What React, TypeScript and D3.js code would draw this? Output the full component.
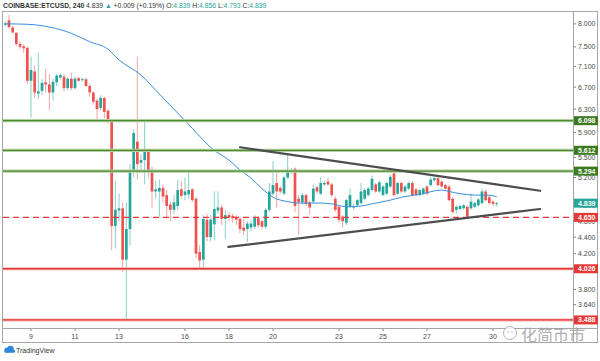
import { useEffect, useRef } from 'react'
import * as d3 from 'd3'

// 4h candles, ETC/USD
const OPEN = [
  7.98, 8.08, 7.92, 7.8, 7.56, 7.51, 7.48, 6.82, 7.0, 6.58,
  6.63, 6.79, 6.75, 6.6, 6.79, 6.88, 6.9, 6.68, 6.86, 6.68,
  6.87, 6.83, 6.85, 6.72, 6.6, 6.45, 6.32, 6.5, 6.27, 6.1,
  4.54, 4.74, 4.77, 4.13, 4.5, 5.3, 5.75, 5.42, 5.46, 5.62,
  5.28, 5.0, 5.0, 5.05, 4.95, 4.82, 4.75, 4.8, 5.03, 4.95,
  4.96, 5.03, 4.9, 4.22, 4.13, 4.62, 4.4, 4.56, 4.74, 4.78,
  4.63, 4.68, 4.67, 4.65, 4.63, 4.52, 4.5, 4.52, 4.53, 4.64,
  4.6, 4.53, 4.75, 4.97, 5.12, 5.05, 4.97, 5.2, 5.28, 5.33,
  4.9, 4.85, 4.95, 4.85, 4.86, 5.06, 4.97, 5.1, 5.14, 5.1,
  4.9, 4.79, 4.66, 4.58, 4.79, 4.78, 4.81, 4.84, 4.9, 4.95,
  5.02, 5.1, 5.0, 4.95, 4.97, 5.07, 5.26, 4.97, 5.12, 5.0,
  5.04, 5.12, 5.03, 4.95, 4.97, 5.07, 5.09, 5.16, 5.19, 5.14,
  5.09, 5.07, 4.9, 4.75, 4.76, 4.77, 4.79, 4.77, 4.79, 4.81,
  4.84, 5.0, 4.92, 4.86, 4.839,
]
const HIGH = [
  8.05, 8.2, 7.95, 7.82, 7.62, 7.56, 7.5, 7.3, 7.12, 7.38,
  6.85, 7.05, 6.95, 6.86, 6.95, 6.96, 6.95, 6.88, 6.98, 6.9,
  6.9, 6.88, 6.88, 6.76, 6.62, 6.48, 6.55, 6.52, 6.3, 6.12,
  5.15, 4.97, 4.85, 4.85, 5.4, 5.95, 7.3, 5.55, 6.1, 5.64,
  5.36, 5.15, 5.17, 5.1, 5.02, 4.86, 4.95, 5.17, 5.15, 5.2,
  5.3, 5.05, 4.92, 4.3, 4.68, 4.7, 4.68, 5.0, 5.0, 4.82,
  4.75, 4.72, 4.7, 4.68, 4.66, 4.63, 4.6, 4.6, 4.68, 4.66,
  4.62, 4.77, 5.12, 5.44, 5.3, 5.08, 5.22, 5.55, 5.34, 5.35,
  4.95, 4.98, 4.97, 4.87, 5.1, 5.08, 5.2, 5.15, 5.2, 5.12,
  4.93, 4.8, 4.68, 4.9, 5.04, 4.83, 4.9, 5.12, 5.05, 5.06,
  5.23, 5.12, 5.15, 5.09, 5.14, 5.24, 5.31, 5.14, 5.14, 5.09,
  5.14, 5.14, 5.05, 5.04, 5.06, 5.09, 5.21, 5.21, 5.21, 5.16,
  5.11, 5.1, 4.92, 4.81, 4.82, 4.83, 4.81, 4.97, 4.86, 4.91,
  5.04, 5.03, 4.94, 4.88, 4.856,
]
const LOW = [
  7.94, 7.9, 7.78, 7.52, 7.46, 7.38, 6.76, 6.15, 6.5, 6.48,
  6.55, 6.6, 6.28, 6.45, 6.72, 6.84, 6.62, 6.64, 6.64, 6.65,
  6.8, 6.8, 6.7, 6.52, 6.38, 6.11, 6.28, 6.14, 6.05, 4.24,
  4.26, 4.6, 3.99, 3.49, 4.3, 5.2, 5.17, 5.3, 5.1, 5.2,
  4.78, 4.9, 4.66, 4.85, 4.64, 4.6, 4.7, 4.75, 4.9, 4.88,
  4.9, 4.85, 4.15, 4.03, 4.03, 4.35, 4.35, 4.36, 4.7, 4.55,
  4.38, 4.6, 4.58, 4.55, 4.45, 4.42, 4.34, 4.48, 4.5, 4.52,
  4.5, 4.5, 4.72, 4.95, 4.78, 4.97, 4.95, 5.18, 5.25, 4.72,
  4.43, 4.82, 4.8, 4.69, 4.84, 4.97, 4.95, 5.08, 5.08, 4.92,
  4.72, 4.58, 4.52, 4.55, 4.77, 4.75, 4.79, 4.82, 4.88, 4.93,
  5.0, 4.98, 4.98, 4.93, 4.95, 5.05, 4.93, 4.95, 4.98, 4.98,
  5.02, 4.93, 4.93, 4.93, 4.95, 4.95, 5.07, 5.14, 5.07, 5.05,
  5.02, 4.86, 4.7, 4.7, 4.74, 4.75, 4.64, 4.75, 4.77, 4.79,
  4.82, 4.86, 4.82, 4.8, 4.793,
]
const CLOSE = [
  8.01, 7.93, 7.81, 7.56, 7.5, 7.47, 6.82, 7.03, 6.6, 6.62,
  6.78, 6.75, 6.6, 6.8, 6.92, 6.93, 6.68, 6.86, 6.68, 6.86,
  6.82, 6.85, 6.72, 6.6, 6.43, 6.3, 6.5, 6.25, 6.1, 4.54,
  4.75, 4.77, 4.13, 4.5, 5.3, 5.89, 5.4, 5.46, 5.62, 5.28,
  5.0, 5.03, 5.05, 4.93, 4.8, 4.75, 4.85, 5.02, 4.94, 5.0,
  5.02, 4.88, 4.2, 4.12, 4.63, 4.4, 4.62, 4.76, 4.78, 4.63,
  4.68, 4.65, 4.64, 4.62, 4.5, 4.48, 4.57, 4.57, 4.64, 4.55,
  4.53, 4.75, 5.0, 5.09, 5.0, 5.0, 5.2, 5.31, 5.31, 4.8,
  4.85, 4.95, 4.83, 4.78, 5.04, 5.0, 5.12, 5.12, 5.1, 4.95,
  4.75, 4.62, 4.6, 4.88, 4.95, 4.8, 4.88, 5.0, 5.02, 5.04,
  5.18, 5.0, 5.13, 5.07, 5.12, 5.21, 4.95, 5.12, 5.0, 5.07,
  5.12, 4.95, 4.95, 5.02, 5.04, 4.97, 5.17, 5.19, 5.09, 5.07,
  5.04, 4.88, 4.72, 4.79, 4.8, 4.81, 4.66, 4.86, 4.84, 4.89,
  5.0, 4.88, 4.84, 4.83, 4.839,
]

// first bar opens day 7, 20:00; one bar = 4 hours
const FIRST_DAY = 7 + 20 / 24
const BAR_DAYS = 4 / 24

// blue moving average, bar index -> value
const MA_BAR = [0, 6, 15, 18, 23, 28, 31, 37, 42, 49, 57, 61, 64, 67, 70, 73, 77, 80, 86, 89, 93, 97, 100, 105, 108, 113, 119, 121, 124, 128, 131, 134]
const MA_VAL = [8.0, 7.99, 7.87, 7.79, 7.61, 7.45, 7.23, 6.93, 6.57, 6.1, 5.61, 5.46, 5.31, 5.19, 5.04, 4.92, 4.86, 4.84, 4.84, 4.83, 4.79, 4.8, 4.83, 4.88, 4.92, 4.96, 5.02, 5.0, 4.97, 4.95, 4.95, 4.93]

// 4.000 sits fully under the 4.026 label, so it is not listed
const PRICE_TICKS = [8, 7.5, 7.1, 6.7, 6.3, 5.9, 5.5, 5.2, 4.8, 4.6, 4.4, 4.2, 3.8, 3.64]
const DAY_TICKS = [9, 11, 13, 16, 18, 20, 23, 25, 27, 30]

const GREEN_LEVELS = [6.098, 5.612, 5.294]
const RED_DASHED = [4.65]
const RED_SOLID = [4.026, 3.488]

// triangle: [day, price] end points
const TREND_UPPER: [number, number][] = [[18.5, 5.66], [32.14, 5.01]]
const TREND_LOWER: [number, number][] = [[17.97, 4.28], [32.14, 4.76]]

const LAST_PRICE = 4.839

const FONT = '"Liberation Sans", Arial, sans-serif'
const UP = '#26a69a'
const DOWN = '#ef5350'
const UP_WICK = '#86cfc6'
const DOWN_WICK = '#f4a3a1'

export default function App() {
  const ref = useRef<SVGSVGElement>(null)

  useEffect(() => {
    if (!ref.current) return
    d3.select(ref.current).selectAll('*').remove()
    render(ref.current)
  }, [])

  return (
    <div style={{ position: 'absolute', left: 0, top: 0 }}>
      <svg ref={ref} style={{ display: 'block' }} />
    </div>
  )
}

function render(el: SVGSVGElement) {
  const W = 600
  const H = 361
  const plot = { left: 3, right: 573, top: 12, bottom: 328 }

  const svg = d3.select(el)
    .attr('width', W)
    .attr('height', H)
    .style('font-family', FONT)

  svg.append('rect').attr('width', W).attr('height', H).attr('fill', '#fff')

  const x = d3.scaleLinear().domain([7.727, 33.636]).range([plot.left, plot.right])
  const y = d3.scaleLog().domain([3.41, 8.27]).range([plot.bottom, plot.top])

  svg.append('clipPath').attr('id', 'plot-clip')
    .append('rect')
    .attr('x', plot.left).attr('y', plot.top)
    .attr('width', plot.right - plot.left).attr('height', plot.bottom - plot.top)

  const g = svg.append('g').attr('clip-path', 'url(#plot-clip)')

  const bars = OPEN.map((o, i) => ({
    day: FIRST_DAY + i * BAR_DAYS,
    o, h: HIGH[i], l: LOW[i], c: CLOSE[i],
  }))

  // Wicks
  g.selectAll('line.wick').data(bars).join('line')
    .attr('x1', (d) => x(d.day)).attr('x2', (d) => x(d.day))
    .attr('y1', (d) => y(d.h)).attr('y2', (d) => y(d.l))
    .attr('stroke', (d) => (d.c >= d.o ? UP_WICK : DOWN_WICK))
    .attr('stroke-width', 1)

  // Bodies
  const bw = 2.7
  g.selectAll('rect.body').data(bars).join('rect')
    .attr('x', (d) => x(d.day) - bw / 2)
    .attr('y', (d) => y(Math.max(d.o, d.c)))
    .attr('width', bw)
    .attr('height', (d) => Math.max(1, Math.abs(y(d.o) - y(d.c))))
    .attr('fill', (d) => (d.c >= d.o ? UP : DOWN))

  // Moving average
  const ma = MA_BAR.map((b, i) => ({ day: FIRST_DAY + b * BAR_DAYS, v: MA_VAL[i] }))
  g.append('path')
    .datum(ma)
    .attr('fill', 'none')
    .attr('stroke', '#3a8edb')
    .attr('stroke-width', 1)
    .attr('d', d3.line<{ day: number; v: number }>().x((d) => x(d.day)).y((d) => y(d.v)).curve(d3.curveMonotoneX))

  // Horizontal levels
  GREEN_LEVELS.forEach((p) => {
    g.append('line')
      .attr('x1', plot.left).attr('x2', plot.right)
      .attr('y1', y(p)).attr('y2', y(p))
      .attr('stroke', '#b3d1a0').attr('stroke-width', 3.2)
    g.append('line')
      .attr('x1', plot.left).attr('x2', plot.right)
      .attr('y1', y(p)).attr('y2', y(p))
      .attr('stroke', '#4e8a32').attr('stroke-width', 1.2)
  })
  RED_DASHED.forEach((p) => {
    g.append('line')
      .attr('x1', plot.left).attr('x2', plot.right)
      .attr('y1', y(p)).attr('y2', y(p))
      .attr('stroke', '#e53935').attr('stroke-width', 1.4)
      .attr('stroke-dasharray', '6,4')
  })
  RED_SOLID.forEach((p) => {
    g.append('line')
      .attr('x1', plot.left).attr('x2', plot.right)
      .attr('y1', y(p)).attr('y2', y(p))
      .attr('stroke', '#f6b0ae').attr('stroke-width', 3)
    g.append('line')
      .attr('x1', plot.left).attr('x2', plot.right)
      .attr('y1', y(p)).attr('y2', y(p))
      .attr('stroke', '#e53935').attr('stroke-width', 1.3)
  })

  // Triangle
  ;[TREND_UPPER, TREND_LOWER].forEach((pts) => {
    g.append('line')
      .attr('x1', x(pts[0][0])).attr('y1', y(pts[0][1]))
      .attr('x2', x(pts[1][0])).attr('y2', y(pts[1][1]))
      .attr('stroke', '#4d4d4d').attr('stroke-width', 2.2)
      .attr('stroke-linecap', 'round')
  })

  // Frame
  svg.append('rect')
    .attr('x', 2.5).attr('y', plot.top - 0.5)
    .attr('width', 595).attr('height', 343 - plot.top)
    .attr('fill', 'none').attr('stroke', '#a6a6a6')
  svg.append('line')
    .attr('x1', plot.right + 0.5).attr('x2', plot.right + 0.5)
    .attr('y1', plot.top).attr('y2', 343)
    .attr('stroke', '#a6a6a6')
  svg.append('line')
    .attr('x1', plot.left).attr('x2', 598)
    .attr('y1', plot.bottom + 0.5).attr('y2', plot.bottom + 0.5)
    .attr('stroke', '#a6a6a6')

  // Price axis
  const py = svg.append('g')
  PRICE_TICKS.forEach((p) => {
    py.append('line')
      .attr('x1', plot.right).attr('x2', plot.right + 3)
      .attr('y1', y(p)).attr('y2', y(p))
      .attr('stroke', '#888')
    py.append('text')
      .attr('x', plot.right + 5).attr('y', y(p))
      .attr('dy', '0.35em')
      .attr('font-size', 7)
      .attr('fill', '#4a4a4a')
      .text(d3.format('.3f')(p))
  })

  const priceLabel = (p: number, bg: string) => {
    py.append('rect')
      .attr('x', plot.right + 1).attr('y', y(p) - 4.5)
      .attr('width', 24).attr('height', 9)
      .attr('fill', bg)
    py.append('text')
      .attr('x', plot.right + 5).attr('y', y(p))
      .attr('dy', '0.35em')
      .attr('font-size', 7)
      .attr('font-weight', 'bold')
      .attr('fill', '#fff')
      .text(d3.format('.3f')(p))
  }
  GREEN_LEVELS.forEach((p) => priceLabel(p, '#3b7a1f'))
  RED_DASHED.forEach((p) => priceLabel(p, '#e53935'))
  RED_SOLID.forEach((p) => priceLabel(p, '#e53935'))
  priceLabel(LAST_PRICE, UP)

  // Time axis
  DAY_TICKS.forEach((d) => {
    svg.append('line')
      .attr('x1', x(d)).attr('x2', x(d))
      .attr('y1', plot.bottom + 1).attr('y2', plot.bottom + 3)
      .attr('stroke', '#888')
    svg.append('text')
      .attr('x', x(d)).attr('y', 339)
      .attr('text-anchor', 'middle')
      .attr('font-size', 7)
      .attr('fill', '#4a4a4a')
      .text(d)
  })

  // Header
  const head = svg.append('text').attr('x', 3).attr('y', 8).attr('font-size', 6.8).attr('fill', '#333')
  head.append('tspan').attr('font-weight', 'bold').text('COINBASE:ETCUSD, 240 ')
  head.append('tspan').text('4.839 ')
  head.append('tspan').attr('fill', UP).text('▲')
  head.append('tspan').text(' +0.009 (+0.19%) O:')
  head.append('tspan').attr('fill', UP).text('4.839')
  head.append('tspan').text(' H:')
  head.append('tspan').attr('fill', UP).text('4.856')
  head.append('tspan').text(' L:')
  head.append('tspan').attr('fill', UP).text('4.793')
  head.append('tspan').text(' C:')
  head.append('tspan').attr('fill', UP).text('4.839')

  // TradingView mark
  const logo = svg.append('g').attr('fill', '#2f86d6')
  logo.append('circle').attr('cx', 7).attr('cy', 350).attr('r', 2.6)
  logo.append('circle').attr('cx', 10.5).attr('cy', 349).attr('r', 3.2)
  logo.append('rect').attr('x', 4.5).attr('y', 349.5).attr('width', 10.5).attr('height', 3.2).attr('rx', 1.5)
  svg.append('text')
    .attr('x', 16).attr('y', 353)
    .attr('font-size', 7)
    .attr('fill', '#333')
    .text('TradingView')

  // Watermark
  const wm = svg.append('g').attr('opacity', 0.85)
  wm.append('circle').attr('cx', 510).attr('cy', 333).attr('r', 6.5)
    .attr('fill', '#fff').attr('stroke', '#a8a8a8').attr('stroke-width', 1)
  wm.append('circle').attr('cx', 508).attr('cy', 332).attr('r', 0.7).attr('fill', '#999')
  wm.append('circle').attr('cx', 512).attr('cy', 332).attr('r', 0.7).attr('fill', '#999')
  wm.append('text')
    .attr('x', 521).attr('y', 341)
    .attr('font-size', 16)
    .attr('font-family', '"Noto Sans CJK SC", sans-serif')
    .attr('fill', '#a3a3a3')
    .text('化简币市')
}
